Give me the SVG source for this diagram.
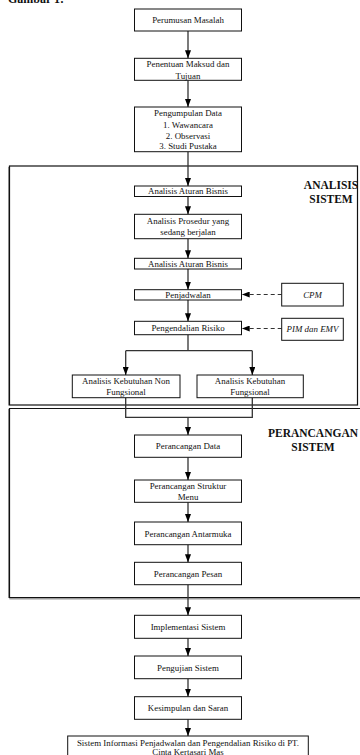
<svg xmlns="http://www.w3.org/2000/svg" width="360" height="755" viewBox="0 0 360 755">
<defs>
<marker id="ah" viewBox="0 0 8 6" refX="8" refY="3" markerWidth="8" markerHeight="6" markerUnits="userSpaceOnUse" orient="auto">
<path d="M0,0 L8,3 L0,6 Z" fill="#000"/>
</marker>
<style>
.nd{fill:#fff;stroke:#111;stroke-width:1}
.t{font-family:"Liberation Serif","Times New Roman",serif;font-size:8.9px;fill:#111;text-anchor:middle}
.ti{font-style:italic}
.hd{font-family:"Liberation Serif","Times New Roman",serif;font-size:11.5px;font-weight:bold;fill:#111;text-anchor:middle}
.c{fill:none;stroke:#333;stroke-width:1.3}
.ca{fill:none;stroke:#333;stroke-width:1.3;marker-end:url(#ah)}
.cd{fill:none;stroke:#333;stroke-width:1.2;stroke-dasharray:4,3;marker-end:url(#ah)}
.frame{fill:none;stroke:#111;stroke-width:1.2}
.shade{fill:none;stroke:#999;stroke-width:1}
</style>
</defs>
<rect width="360" height="755" fill="#fff"/>
<text x="8" y="3" font-family="Liberation Serif,serif" font-size="12" font-weight="bold" fill="#111">Gambar 1:</text>

<g id="frames">
<g id="analisis-sistem">
<path class="shade" d="M8.5,405.5 V166.8"/>
<rect class="frame" x="9.5" y="166" width="348" height="239"/>
<text class="hd" x="331" y="189">ANALISIS</text>
<text class="hd" x="331" y="203">SISTEM</text>
</g>
<g id="perancangan-sistem">
<path class="shade" d="M8.5,598 V409 M9.5,599 H362"/>
<path class="frame" d="M362,408.5 H9.5 V597.7 H362"/>
<text class="hd" x="313" y="437">PERANCANGAN</text>
<text class="hd" x="313" y="451">SISTEM</text>
</g>
</g>

<g id="connectors">
<path class="ca" d="M188,31 V58.3"/>
<path class="ca" d="M188,80.3 V107"/>
<path class="ca" d="M188,151.7 V186"/>
<path class="ca" d="M188,196.5 V214.3"/>
<path class="ca" d="M188,238.7 V258.3"/>
<path class="ca" d="M188,269 V289.7"/>
<path class="ca" d="M188,300 V321.3"/>
<path class="cd" d="M281.7,294.5 H241.7"/>
<path class="cd" d="M281.7,328.5 H241.7"/>
<path class="c" d="M188,334.7 V350.7 M125.7,350.7 H252.3"/>
<path class="ca" d="M125.7,350.7 V375"/>
<path class="ca" d="M252.3,350.7 V375"/>
<path class="c" d="M125.7,397.7 V417.3 H252.3 V397.7"/>
<path class="ca" d="M188,417.3 V435"/>
<path class="ca" d="M188,457.3 V480"/>
<path class="ca" d="M188,502.3 V522"/>
<path class="ca" d="M188,544.7 V562.3"/>
<path class="ca" d="M188,584.7 V615.3"/>
<path class="ca" d="M188,638.3 V656"/>
<path class="ca" d="M188,678.7 V696.7"/>
<path class="ca" d="M188,719.3 V736"/>
</g>

<g id="n1"><rect class="nd" x="134.5" y="9" width="107" height="22"/><text class="t" x="188" y="23">Perumusan Masalah</text></g>
<g id="n2"><rect class="nd" x="134.5" y="58.3" width="107" height="22"/><text class="t" x="188" y="67">Penentuan Maksud dan</text><text class="t" x="188" y="78.5">Tujuan</text></g>
<g id="n3"><rect class="nd" x="134.5" y="107" width="107" height="44.7"/><text class="t" x="188" y="116">Pengumpulan Data</text><text class="t" x="188" y="128">1. Wawancara</text><text class="t" x="188" y="138.7">2. Observasi</text><text class="t" x="188" y="148.7">3. Studi Pustaka</text></g>
<g id="n4"><rect class="nd" x="134.5" y="186" width="107" height="10.5"/><text class="t" x="188" y="194.3">Analisis Aturan Bisnis</text></g>
<g id="n5"><rect class="nd" x="134.5" y="214.3" width="107" height="24.4"/><text class="t" x="188" y="224">Analisis Prosedur yang</text><text class="t" x="188" y="235">sedang berjalan</text></g>
<g id="n6"><rect class="nd" x="134.5" y="258.3" width="107" height="10.7"/><text class="t" x="188" y="266.7">Analisis Aturan Bisnis</text></g>
<g id="n7"><rect class="nd" x="134.5" y="289.7" width="107" height="10.3"/><text class="t" x="188" y="297.8">Penjadwalan</text></g>
<g id="n8"><rect class="nd" x="134.5" y="321.3" width="107" height="13.4"/><text class="t" x="188" y="331">Pengendalian Risiko</text></g>
<g id="cpm"><rect class="nd" x="281.7" y="283.3" width="61.6" height="22.7"/><text class="t ti" x="312.5" y="297.5">CPM</text></g>
<g id="pim"><rect class="nd" x="281.7" y="318.3" width="61.6" height="22"/><text class="t ti" x="312.5" y="332">PIM dan EMV</text></g>
<g id="n9"><rect class="nd" x="72.3" y="375" width="107.7" height="22.7"/><text class="t" x="126" y="384">Analisis Kebutuhan Non</text><text class="t" x="126" y="395.3">Fungsional</text></g>
<g id="n10"><rect class="nd" x="197" y="375" width="106.3" height="22.7"/><text class="t" x="250" y="384">Analisis Kebutuhan</text><text class="t" x="250" y="395.3">Fungsional</text></g>
<g id="n11"><rect class="nd" x="134.5" y="435" width="107" height="22.3"/><text class="t" x="188" y="449">Perancangan Data</text></g>
<g id="n12"><rect class="nd" x="134.5" y="480" width="107" height="22.3"/><text class="t" x="188" y="489">Perancangan Struktur</text><text class="t" x="188" y="500">Menu</text></g>
<g id="n13"><rect class="nd" x="134.5" y="522" width="107" height="22.7"/><text class="t" x="188" y="536.5">Perancangan Antarmuka</text></g>
<g id="n14"><rect class="nd" x="134.5" y="562.3" width="107" height="22.4"/><text class="t" x="188" y="576.5">Perancangan Pesan</text></g>
<g id="n15"><rect class="nd" x="134.5" y="615.3" width="107" height="23"/><text class="t" x="188" y="630">Implementasi Sistem</text></g>
<g id="n16"><rect class="nd" x="134.5" y="656" width="107" height="22.7"/><text class="t" x="188" y="670.5">Pengujian Sistem</text></g>
<g id="n17"><rect class="nd" x="134.5" y="696.7" width="107" height="22.6"/><text class="t" x="188" y="711">Kesimpulan dan Saran</text></g>
<g id="n18"><rect class="nd" x="67.7" y="736" width="240.6" height="30"/><text class="t" x="188" y="745.7">Sistem Informasi Penjadwalan dan Pengendalian Risiko di PT.</text><text class="t" x="188" y="755.3">Cinta Kertasari Mas</text></g>
</svg>
